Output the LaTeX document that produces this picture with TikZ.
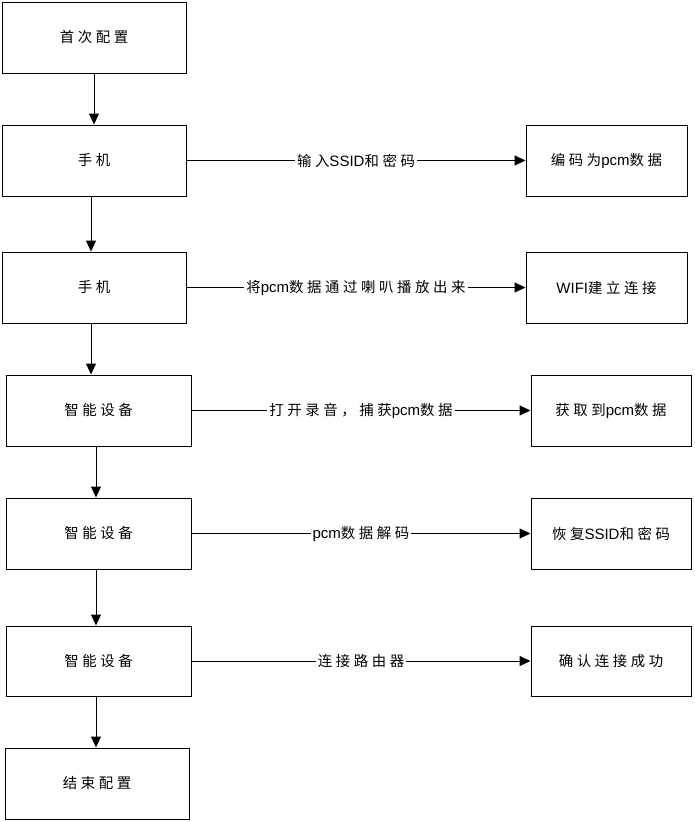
\documentclass[tikz,border=0pt]{standalone}
\usepackage{fontspec}
\setmainfont{Liberation Sans}
\newfontfamily\cjk[LetterSpace=25,Scale=0.96]{Noto Sans CJK SC}
\usetikzlibrary{arrows.meta}
\newcommand\zh[1]{{\cjk #1}}
\begin{document}
\begin{tikzpicture}[x=1pt,y=-1pt,
  box/.style={draw=black,line width=1pt,minimum height=71pt,inner sep=0pt,font=\fontsize{15}{17}\selectfont},
  lbox/.style={box,minimum width=184pt},
  rbox/.style={box,minimum width=161pt},
  flow/.style={draw=black,line width=1pt,-{Triangle[length=11pt,width=10pt]}},
  lab/.style={fill=white,inner xsep=2pt,inner ysep=1pt,font=\fontsize{15}{17}\selectfont}]
\useasboundingbox (0,0) rectangle (694,822);
\node[lbox] (b1) at (94,37.5) {\zh{首次配置}};
\node[lbox] (b2) at (94,160.5) {\zh{手机}};
\node[rbox] (r2) at (606.5,160.5) {\zh{编码为}pcm\zh{数据}};
\node[lbox] (b3) at (94,287.5) {\zh{手机}};
\node[rbox] (r3) at (606.5,287.5) {WIFI\zh{建立连接}};
\node[lbox,minimum width=185pt] (b4) at (98.5,410.5) {\zh{智能设备}};
\node[rbox,minimum width=160pt] (r4) at (611,410.5) {\zh{获取到}pcm\zh{数据}};
\node[lbox,minimum width=185pt] (b5) at (98.5,533.5) {\zh{智能设备}};
\node[rbox,minimum width=160pt] (r5) at (611,533.5) {\zh{恢复}SSID\zh{和密码}};
\node[lbox,minimum width=185pt,minimum height=70pt] (b6) at (98.5,661) {\zh{智能设备}};
\node[rbox,minimum width=160pt,minimum height=70pt] (r6) at (611,661) {\zh{确认连接成功}};
\node[lbox] (b7) at (97,783.5) {\zh{结束配置}};
\draw[flow] (b1.south) -- (b2.north);
\draw[flow] ([xshift=-3pt]b2.south) -- ([xshift=-3pt]b3.north);
\draw[flow] ([xshift=-3pt]b3.south) -- ([xshift=-7.5pt]b4.north);
\draw[flow] ([xshift=-2.5pt]b4.south) -- ([xshift=-2.5pt]b5.north);
\draw[flow] ([xshift=-2.5pt]b5.south) -- ([xshift=-2.5pt]b6.north);
\draw[flow] ([xshift=-2.5pt]b6.south) -- ([xshift=-1pt]b7.north);
\draw[flow] (b2.east) -- node[lab] {\zh{输入}SSID\zh{和密码}} (r2.west);
\draw[flow] (b3.east) -- node[lab] {\zh{将}pcm\zh{数据通过喇叭播放出来}} (r3.west);
\draw[flow] (b4.east) -- node[lab] {\zh{打开录音，捕获}pcm\zh{数据}} (r4.west);
\draw[flow] (b5.east) -- node[lab] {pcm\zh{数据解码}} (r5.west);
\draw[flow] (b6.east) -- node[lab] {\zh{连接路由器}} (r6.west);
\end{tikzpicture}
\end{document}
